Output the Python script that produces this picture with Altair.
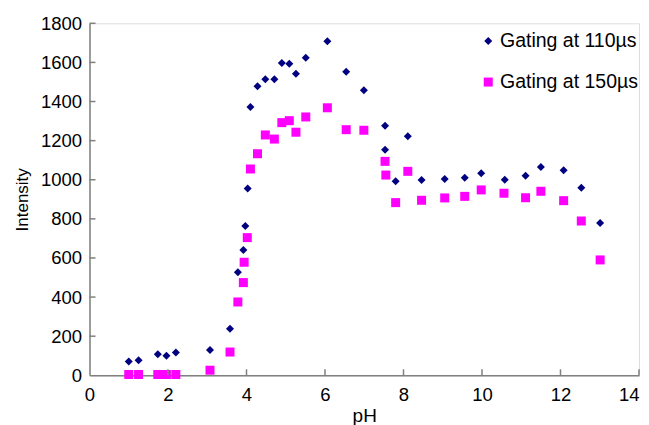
import altair as alt
import pandas as pd

# Gating at 110 µs (diamonds)
ph_110 = [1.0, 1.25, 1.74, 1.96, 2.2, 3.07, 3.58, 3.78, 3.92, 3.97, 4.03, 4.1, 4.28, 4.48, 4.71, 4.9,
          5.09, 5.26, 5.51, 6.06, 6.54, 6.99, 7.53, 7.53, 7.8, 8.11, 8.46, 9.05, 9.56, 9.98, 10.58,
          11.11, 11.5, 12.08, 12.53, 13.01]
int_110 = [70, 77, 107, 100, 116, 129, 238, 527, 641, 763, 955, 1372, 1478, 1514, 1514, 1597,
           1593, 1542, 1624, 1708, 1552, 1457, 1276, 1154, 992, 1222, 999, 1004, 1010, 1033, 1000,
           1021, 1065, 1048, 959, 779]

# Gating at 150 µs (squares)
ph_150 = [1.0, 1.25, 1.74, 1.96, 2.2, 3.07, 3.58, 3.78, 3.92, 3.94, 4.02, 4.1, 4.28, 4.48, 4.71, 4.9,
          5.09, 5.26, 5.51, 6.06, 6.54, 6.99, 7.53, 7.55, 7.8, 8.11, 8.46, 9.05, 9.56, 9.98, 10.56,
          11.11, 11.5, 12.08, 12.53, 13.01]
int_150 = [4, 4, 4, 4, 4, 26, 119, 375, 474, 578, 704, 1055, 1133, 1229, 1208, 1292,
           1302, 1243, 1321, 1368, 1256, 1253, 1094, 1024, 883, 1043, 895, 907, 915, 948, 931,
           908, 941, 893, 789, 590]

series_names = ["Gating at 110µs", "Gating at 150µs"]
x_ticks = [0, 2, 4, 6, 8, 10, 12, 14]
y_ticks = [0, 200, 400, 600, 800, 1000, 1200, 1400, 1600, 1800]

df = pd.DataFrame({
    "pH": ph_110 + ph_150,
    "Intensity": int_110 + int_150,
    "series": [series_names[0]] * len(ph_110) + [series_names[1]] * len(ph_150),
})

W, H = 549.5, 352
AXIS_GRAY = "#808080"
FONT = "Liberation Sans"

xscale = alt.Scale(domain=[0, 14], nice=False, zero=False)
yscale = alt.Scale(domain=[0, 1800], nice=False)

xaxis = alt.Axis(values=x_ticks, title="pH", ticks=False, grid=False, format="d",
                 domainColor=AXIS_GRAY, domainWidth=1.5, labelOverlap=False,
                 labelFont=FONT, labelFontSize=18.5, labelColor="black",
                 labelPadding=10, titleFont=FONT, titleFontSize=19,
                 titleFontWeight="normal", titleColor="black", titlePadding=3,
                 labelFlush=False,
                 labelAlign={"condition": {"test": "datum.value == 14", "value": "right"},
                             "value": "center"})
yaxis = alt.Axis(values=y_ticks, title="Intensity", ticks=False, grid=False, format="d",
                 domainColor=AXIS_GRAY, domainWidth=1.5, labelOverlap=False,
                 labelFont=FONT, labelFontSize=18.5, labelColor="black",
                 labelPadding=8, titleFont=FONT, titleFontSize=17,
                 titleFontWeight="normal", titleColor="black", titlePadding=9,
                 labelFlush=False)

legend = alt.Legend(title=None, orient="none", legendX=389, legendY=8,
                    labelFont=FONT, labelFontSize=19.5, labelColor="black",
                    symbolSize=55, rowPadding=20, labelOffset=2, padding=0)

points = alt.Chart(df).mark_point(filled=True, opacity=1).encode(
    x=alt.X("pH:Q", scale=xscale, axis=xaxis),
    y=alt.Y("Intensity:Q", scale=yscale, axis=yaxis),
    shape=alt.Shape("series:N", scale=alt.Scale(domain=series_names, range=["diamond", "square"]),
                    legend=legend),
    color=alt.Color("series:N", scale=alt.Scale(domain=series_names, range=["#000080", "#FF00FF"]),
                    legend=legend),
    size=alt.Size("series:N", scale=alt.Scale(domain=series_names, range=[64, 81]), legend=None),
)

xt = pd.DataFrame({"pH": x_ticks[1:]})
yt = pd.DataFrame({"Intensity": y_ticks[1:]})

xtick_marks = alt.Chart(xt).mark_rule(color=AXIS_GRAY, strokeWidth=1.5).encode(
    x=alt.X("pH:Q", scale=xscale, axis=xaxis),
    y=alt.value(H), y2=alt.value(H - 6),
)
ytick_marks = alt.Chart(yt).mark_rule(color=AXIS_GRAY, strokeWidth=1.5).encode(
    y=alt.Y("Intensity:Q", scale=yscale, axis=yaxis),
    x=alt.value(0), x2=alt.value(6),
)

chart = alt.layer(points, xtick_marks, ytick_marks).properties(
    width=W, height=H,
    autosize=alt.AutoSizeParams(type="none"),
    padding={"left": 81.5, "top": 15.3, "right": 2, "bottom": 50},
).configure_view(stroke=None).configure(background="white")

chart.save("out.html", embed_options={"renderer": "svg", "actions": False})
